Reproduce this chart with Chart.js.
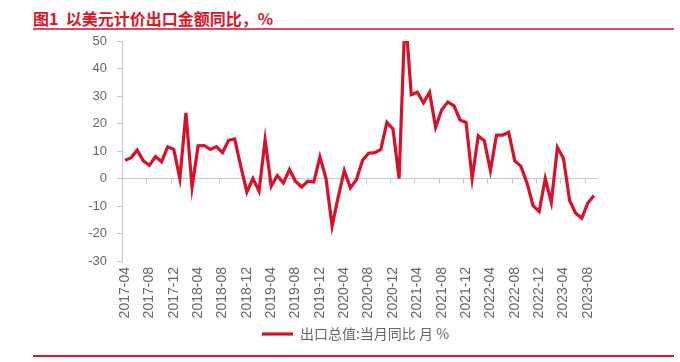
<!DOCTYPE html>
<html>
<head>
<meta charset="utf-8">
<script src="https://cdn.jsdelivr.net/npm/chart.js@4.4.1/dist/chart.umd.min.js"></script>
<style>
  body { margin: 0; background: #fff; }
  #wrap { position: relative; width: 680px; height: 362px; }
  #wrap canvas { position: absolute; left: 0; top: 0; }
  .title {
    position: absolute; left: 33px; top: 6px; line-height: 20px;
    font: bold 16px "Noto Sans CJK SC", sans-serif; color: #d7182a;
    white-space: pre;
  }
  .rule { position: absolute; left: 33px; width: 641px; height: 2px; background: #e2475a; }
</style>
</head>
<body>
<div id="wrap">
  <div class="title">图1  以美元计价出口金额同比，%</div>
  <div class="rule" style="top:28px"></div>
  <div class="rule" style="top:355px;background:#d7182a"></div>
  <canvas id="exportChart" width="680" height="362"></canvas>
</div>

<script>
// --- dữ liệu ---
const startYear = 2017;
const startMonth = 4;
const seriesName = "出口总值:当月同比 月 %";

// 出口总值 当月同比 (%), 2017-04 .. 2023-09
const exportYoy = [
  6.6, 7.6, 10.3, 6.4, 4.8, 8.0, 6.1, 11.5, 10.6,
  0, 23.9, -3.2, 11.9, 12.0, 10.6, 11.6, 9.4, 13.9, 14.4, 4.5, -4.9,
  0, -4.6, 14.1, -2.8, 1.1, -1.6, 3.3, -1.0, -3.1, -1.0, -1.3, 7.9,
  0, -17.3, -6.8, 2.9, -3.4, -0.4, 6.6, 9.2, 9.4, 10.6, 20.4, 18.0,
  0, 60.6, 30.5, 31.4, 27.5, 31.4, 18.6, 25.0, 27.8, 26.5, 21.3, 20.4,
  0, 15.5, 13.7, 2.9, 15.8, 15.8, 16.8, 6.4, 4.5, -1.6, -9.9, -12.0,
  0, -8.7, 11.3, 7.3, -8.0, -12.6, -14.4, -8.9, -6.2
];

const yTicks = [-30, -20, -10, 0, 10, 20, 30, 40, 50];

// nhãn tháng
const months = [];
for (let i = 0; i < exportYoy.length; i++) {
  const m = startMonth - 1 + i;
  const y = startYear + Math.floor(m / 12);
  months.push(y + "-" + String((m % 12) + 1).padStart(2, "0"));
}

const lineRed = "#d8102a";
const axisGrey = "#c6c6c6";
const textGrey = "#666666";

// vạch chia nhỏ trên đường 0
const zeroTicks = {
  id: "zeroTicks",
  beforeDatasetsDraw(chart) {
    const { ctx, scales: { x, y } } = chart;
    const y0 = y.getPixelForValue(0);
    const half = (x.getPixelForValue(1) - x.getPixelForValue(0)) / 2;
    ctx.save();
    ctx.strokeStyle = axisGrey;
    ctx.lineWidth = 1;
    ctx.beginPath();
    for (let i = 0; i < months.length; i += 4) {
      const px = Math.round(x.getPixelForValue(i) - half) + 0.5;
      ctx.moveTo(px, y0);
      ctx.lineTo(px, y0 + 5);
    }
    ctx.stroke();
    ctx.restore();
  },
  afterLayout(chart) {
    // đẩy chú thích sang phải một chút
    chart.legend.left += 16;
    chart.legend.right += 16;
  },
};

new Chart(document.getElementById("exportChart"), {
  type: "line",
  data: {
    labels: months,
    datasets: [
      {
        label: seriesName,
        data: exportYoy,
        borderColor: lineRed,
        backgroundColor: lineRed,
        borderWidth: 3.2,
        pointRadius: 0,
        tension: 0,
      },
    ],
  },
  options: {
    responsive: false,
    animation: false,
    layout: { padding: { left: 82, right: 83, top: 41, bottom: 11 } },
    scales: {
      x: {
        offset: true,
        grid: { display: false, drawTicks: false },
        border: { display: false },
        ticks: {
          autoSkip: false,
          maxRotation: 90,
          minRotation: 90,
          padding: 6,
          color: textGrey,
          font: { family: "Liberation Sans", size: 14 },
          callback: (v, i) => (i % 4 === 0 ? months[i] : ""),
        },
        afterFit: (scale) => { scale.height = 62; },
      },
      y: {
        min: -30,
        max: 50,
        afterBuildTicks: (scale) => { scale.ticks = yTicks.map((v) => ({ value: v })); },
        grid: {
          color: (c) => (c.tick && c.tick.value === 0 ? axisGrey : "rgba(0,0,0,0)"),
          tickColor: axisGrey,
          tickLength: 5,
        },
        border: { color: axisGrey },
        ticks: {
          padding: 10,
          color: textGrey,
          font: { family: "Liberation Sans", size: 13 },
        },
        afterFit: (scale) => { scale.width = 40; },
      },
    },
    plugins: {
      legend: {
        position: "bottom",
        labels: {
          usePointStyle: true,
          pointStyle: "line",
          pointStyleWidth: 31,
          padding: 4,
          color: textGrey,
          font: { family: "Noto Sans CJK SC", size: 14 },
        },
      },
      tooltip: { enabled: false },
    },
  },
  plugins: [zeroTicks],
});
</script>
</body>
</html>
